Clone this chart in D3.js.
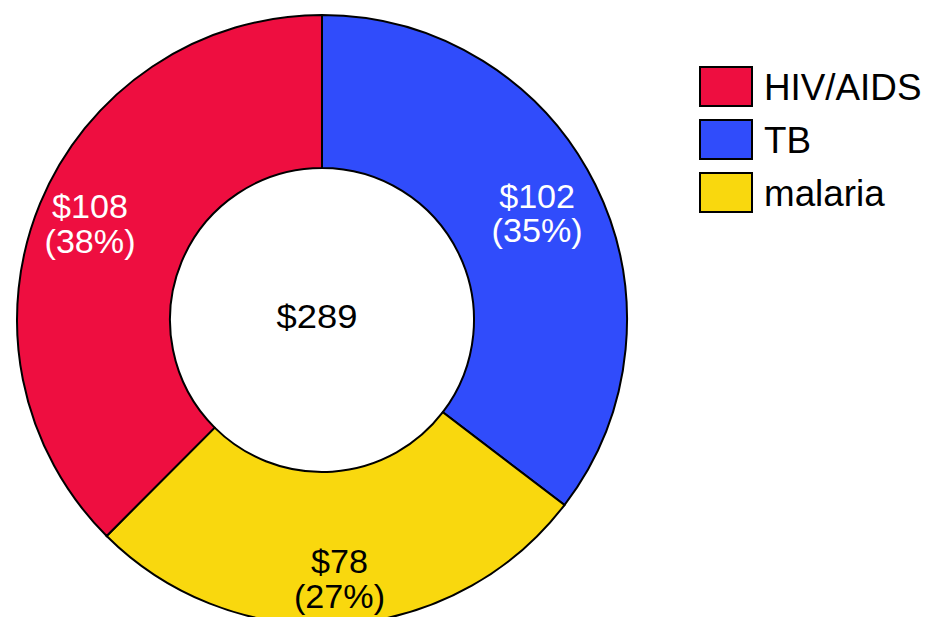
<!DOCTYPE html>
<html>
<head>
<meta charset="utf-8">
<script src="https://cdn.jsdelivr.net/npm/d3@7"></script>
<style>
  body { margin: 0; background: #fff; }
  text { font-family: "Liberation Sans", Arial, sans-serif; }
</style>
</head>
<body>
<div id="wrapper"></div>
<script>
// slices in drawing order (clockwise from 12 o'clock)
const categories = ["TB", "malaria", "HIV/AIDS"];
const values = [102.2, 78.3, 108.4];
const colors = ["#304cfb", "#f9d80e", "#ee0e40"];
const labelColors = ["#fff", "#000", "#fff"];
const legendOrder = ["HIV/AIDS", "TB", "malaria"];

const width = 928, height = 617;
const cx = 322, cy = 320;
const outerR = 305, innerR = 152;
// how far out each inside label sits
const labelRadius = {"TB": 240, "malaria": 260, "HIV/AIDS": 251};

const svg = d3.select("#wrapper")
  .append("svg")
  .attr("width", width)
  .attr("height", height);

const data = categories.map((c, i) => ({name: c, value: values[i], color: colors[i], label: labelColors[i]}));
const total = d3.sum(values);

const pie = d3.pie().value(d => d.value).sort(null);
const arc = d3.arc().innerRadius(innerR).outerRadius(outerR);

const g = svg.append("g").attr("transform", `translate(${cx},${cy})`);

const slices = g.selectAll("g.slice")
  .data(pie(data))
  .enter()
  .append("g")
  .attr("class", "slice");

slices.append("path")
  .attr("d", arc)
  .attr("fill", d => d.data.color)
  .attr("stroke", "#000")
  .attr("stroke-width", 2);

function labelPos(d) {
  const r = labelRadius[d.data.name];
  return d3.arc().innerRadius(r).outerRadius(r).centroid(d);
}

const lbl = slices.append("text")
  .attr("transform", d => `translate(${labelPos(d)}) scale(1.05,1)`)
  .attr("text-anchor", "middle")
  .style("font-size", "32.5px")
  .attr("fill", d => d.data.label);

lbl.append("tspan")
  .attr("x", 0)
  .attr("y", -6)
  .text(d => "$" + Math.round(d.data.value));
lbl.append("tspan")
  .attr("x", 0)
  .attr("y", 28.5)
  .text(d => "(" + Math.round(d.data.value / total * 100) + "%)");

g.append("text")
  .attr("text-anchor", "middle")
  .attr("transform", "translate(-5,8) scale(1.12,1)")
  .style("font-size", "32.5px")
  .text("$" + Math.round(total));

// legend
const colorOf = d3.scaleOrdinal().domain(categories).range(colors);
const legend = svg.selectAll("g.legend")
  .data(legendOrder)
  .enter()
  .append("g")
  .attr("class", "legend")
  .attr("transform", (d, i) => `translate(700,${67 + i * 53})`);

legend.append("rect")
  .attr("width", 52)
  .attr("height", 39)
  .attr("fill", d => colorOf(d))
  .attr("stroke", "#000")
  .attr("stroke-width", 2);

legend.append("text")
  .attr("x", 64)
  .attr("y", 33)
  .style("font-size", "36.8px")
  .text(d => d);
</script>
</body>
</html>
